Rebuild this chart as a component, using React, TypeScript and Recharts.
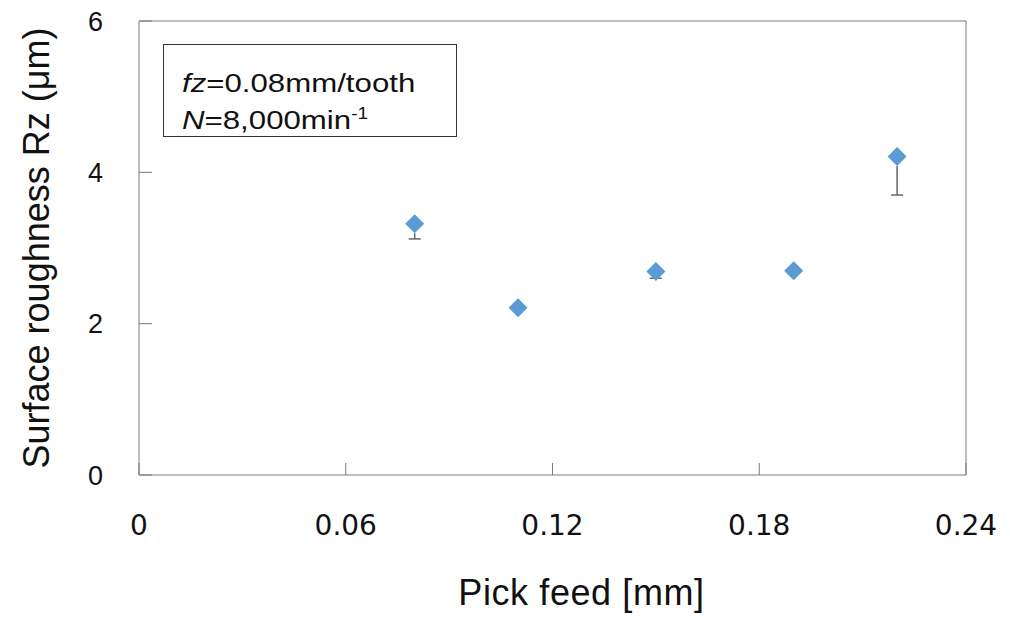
import { ScatterChart, Scatter, XAxis, YAxis, ReferenceLine, Label } from "recharts";

// pick feed [mm] vs surface roughness Rz [µm]
const pickFeed = [0.08, 0.11, 0.15, 0.19, 0.22];
const roughness = [3.32, 2.21, 2.69, 2.70, 4.21];
// spread below the mean (only the lower side is drawn)
const spreadLow = [0.2, 0, 0.09, 0, 0.51];

const xTicks = [0, 0.06, 0.12, 0.18, 0.24];
const yTicks = [0, 2, 4, 6];

const data = pickFeed.map((x, i) => ({ x, y: roughness[i] }));

const AXIS = "#7a7a7a";
const BLUE = "#5b9bd5";
const ARIAL = "'Liberation Sans', Arial, sans-serif";
const MARK_R = 9.5;

function Diamond(props: any) {
  const { cx, cy } = props;
  const r = MARK_R;
  return (
    <polygon
      points={`${cx},${cy - r} ${cx + r},${cy} ${cx},${cy + r} ${cx - r},${cy}`}
      fill={BLUE}
    />
  );
}

// lower error whisker: segment runs from the low end up to the mean,
// stopping at the marker's bottom tip
function LowerWhisker(props: any) {
  const { x1, y1, y2 } = props;
  const low = Math.max(y1, y2);
  const mean = Math.min(y1, y2);
  const top = Math.min(low, mean + MARK_R);
  return (
    <g stroke="#666" strokeWidth={1.5}>
      <line x1={x1} x2={x1} y1={low} y2={top} />
      <line x1={x1 - 6} x2={x1 + 6} y1={low} y2={low} />
    </g>
  );
}

const boxLine: React.CSSProperties = {
  position: "absolute",
  left: 18,
  whiteSpace: "nowrap",
  lineHeight: "30px",
  transform: "scaleX(1.2)",
  transformOrigin: "left center",
};

export default function App() {
  return (
    <div style={{ position: "absolute", left: 0, top: 0, width: 1010, height: 619, background: "#fff" }}>
      <ScatterChart width={1010} height={619} margin={{ top: 21, right: 44, bottom: 0, left: 39 }}>
        <XAxis
          type="number"
          dataKey="x"
          domain={[0, 0.24]}
          ticks={xTicks}
          tickFormatter={(v: number) => (v === 0 ? "0" : v.toFixed(2))}
          stroke={AXIS}
          tickSize={-12}
          tickMargin={52}
          height={144}
          tick={{ fill: "#111", fontSize: 28, fontFamily: "'DejaVu Sans', sans-serif" }}
        >
          <Label
            value="Pick feed [mm]"
            position="insideBottom"
            offset={14}
            dx={29}
            style={{ fill: "#111", fontSize: 36, letterSpacing: 0.6, fontFamily: ARIAL }}
          />
        </XAxis>
        <YAxis
          type="number"
          dataKey="y"
          domain={[0, 6]}
          ticks={yTicks}
          stroke={AXIS}
          tickSize={-13}
          tickMargin={49}
          width={100}
          tick={{ fill: "#111", fontSize: 27, fontFamily: ARIAL }}
        >
          <Label
            value="Surface roughness Rz (μm)"
            angle={-90}
            position="insideLeft"
            offset={-3}
            style={{ textAnchor: "middle", fill: "#111", fontSize: 36, fontFamily: ARIAL }}
          />
        </YAxis>
        <ReferenceLine y={6} stroke={AXIS} />
        <ReferenceLine x={0.24} stroke={AXIS} />
        {pickFeed.map((x, i) =>
          spreadLow[i] > 0 ? (
            <ReferenceLine
              key={x}
              segment={[
                { x, y: roughness[i] - spreadLow[i] },
                { x, y: roughness[i] },
              ]}
              shape={LowerWhisker}
            />
          ) : null
        )}
        <Scatter data={data} fill={BLUE} shape={Diamond} isAnimationActive={false} />
      </ScatterChart>
      <div
        style={{
          position: "absolute",
          left: 163,
          top: 44,
          width: 294,
          height: 93,
          border: "1.5px solid #333",
          boxSizing: "border-box",
          fontFamily: ARIAL,
          fontSize: 26,
          color: "#111",
        }}
      >
        <div style={{ ...boxLine, top: 23 }}>
          <i>fz</i>=0.08mm/tooth
        </div>
        <div style={{ ...boxLine, top: 60 }}>
          <i>N</i>=8,000min<sup style={{ fontSize: 16, verticalAlign: "10px", lineHeight: 0 }}>-1</sup>
        </div>
      </div>
    </div>
  );
}
